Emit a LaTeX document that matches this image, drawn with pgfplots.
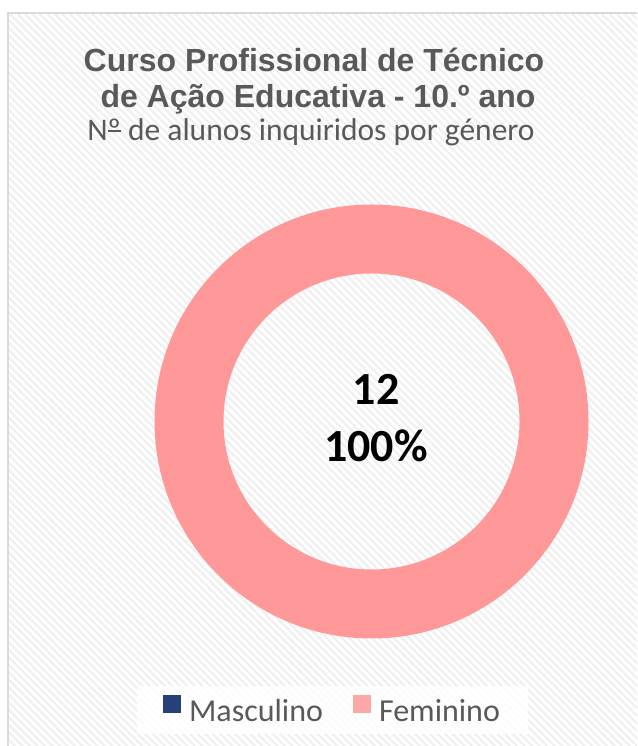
\documentclass[border=0pt]{standalone}
\usepackage{fontspec}
\usepackage{pgfplots}
\usepackage{pgfplotstable}
\pgfplotsset{compat=1.18}
\usetikzlibrary{patterns.meta}
\setmainfont{Carlito}
\newfontfamily\titlefont{Liberation Sans}
\definecolor{fem}{RGB}{255,153,153}
\definecolor{masc}{RGB}{0,32,96}
\definecolor{titlegray}{RGB}{89,89,89}
\newcommand\ordo{{\setbox0\hbox{º}\rlap{\raisebox{0.3em}{\rule{\wd0}{0.055em}}}º}}

\pgfplotstableread{
genero valor
Masculino 0
Feminino 12
}\dados

\begin{document}
\begin{tikzpicture}[x=1pt,y=1pt]
\useasboundingbox (0,0) rectangle (637,746);
% data-derived angles
\pgfplotstablegetelem{0}{valor}\of\dados \edef\vm{\pgfplotsretval}
\pgfplotstablegetelem{1}{valor}\of\dados \edef\vf{\pgfplotsretval}
\pgfmathsetmacro\total{\vm+\vf}
\pgfmathsetmacro\aA{90}
\pgfmathsetmacro\aB{90-360*\vm/\total}
\pgfmathsetmacro\aC{90-360*(\vm+\vf)/\total}
\pgfmathtruncatemacro\pf{round(100*\vf/\total)}
\pgfmathtruncatemacro\nf{\vf}
\def\Ro{217}\def\Ri{148}
\pgfmathsetmacro\xAo{\Ro*cos(\aA)}\pgfmathsetmacro\yAo{\Ro*sin(\aA)}
\pgfmathsetmacro\xBo{\Ro*cos(\aB)}\pgfmathsetmacro\yBo{\Ro*sin(\aB)}
\pgfmathsetmacro\xBi{\Ri*cos(\aB)}\pgfmathsetmacro\yBi{\Ri*sin(\aB)}
\pgfmathsetmacro\xCi{\Ri*cos(\aC)}\pgfmathsetmacro\yCi{\Ri*sin(\aC)}
% background
\begin{scope}
\clip (0,0) rectangle (637,746);
\fill[white] (0,0) rectangle (637,746);
\fill[pattern={Lines[angle=-45,distance=5.3pt,line width=2.2pt]}, pattern color=black!6] (8,-10) rectangle (660,733);
\draw[black!15, line width=1.5pt] (8,-10) rectangle (660,733);
\end{scope}
% titles
\node[anchor=base, font=\titlefont\bfseries\fontsize{32}{32}\selectfont, text=titlegray, inner sep=0pt] at (314,674) {Curso Profissional de Técnico};
\node[anchor=base, font=\titlefont\bfseries\fontsize{32}{32}\selectfont, text=titlegray, inner sep=0pt] at (318,638) {de Ação Educativa - 10.º ano};
\node[anchor=base, font=\fontsize{31.5}{31.5}\selectfont, text=titlegray, inner sep=0pt] at (311,605) {N\ordo{} de alunos inquiridos por género};
\begin{axis}[
  at={(371.5,324.5)}, anchor=center,
  x=1pt, y=1pt,
  xmin=-230, xmax=230, ymin=-230, ymax=230,
  hide axis, clip=false,
  legend columns=2,
  legend style={at={(axis cs:-39,-288.5)}, anchor=center, draw=none,
    fill=white, fill opacity=0.85, text opacity=1,
    font=\fontsize{32}{32}\selectfont, text=titlegray,
    inner xsep=26pt, inner ysep=9pt,
    /tikz/every odd column/.append style={column sep=6pt},
    /tikz/every even column/.append style={column sep=28pt}},
  legend image code/.code={\fill[#1] (0pt,-2pt) rectangle (18pt,16pt);},
]
\addlegendimage{fill=masc, draw=none}
\addlegendentry{Masculino}
\addlegendimage{fill=fem, draw=none}
\addlegendentry{Feminino}
\ifdim\aA pt=\aB pt\else
\fill[masc] (axis cs:\xAo,\yAo) arc[start angle=\aA, end angle=\aB, radius=\Ro]
  -- (axis cs:\xBi,\yBi) arc[start angle=\aB, end angle=\aA, radius=\Ri] -- cycle;
\fi
\ifdim\aB pt=\aC pt\else
\fill[fem] (axis cs:\xBo,\yBo) arc[start angle=\aB, end angle=\aC, radius=\Ro]
  -- (axis cs:\xCi,\yCi) arc[start angle=\aC, end angle=\aB, radius=\Ri] -- cycle;
\fi
\node[anchor=base, font=\bfseries\fontsize{46}{46}\selectfont, inner sep=0pt] at (axis cs:4.5,16.5) {\nf};
\node[anchor=base, font=\bfseries\fontsize{46}{46}\selectfont, inner sep=0pt] at (axis cs:4.5,-40.5) {\pf\%};
\end{axis}
\end{tikzpicture}
\end{document}
